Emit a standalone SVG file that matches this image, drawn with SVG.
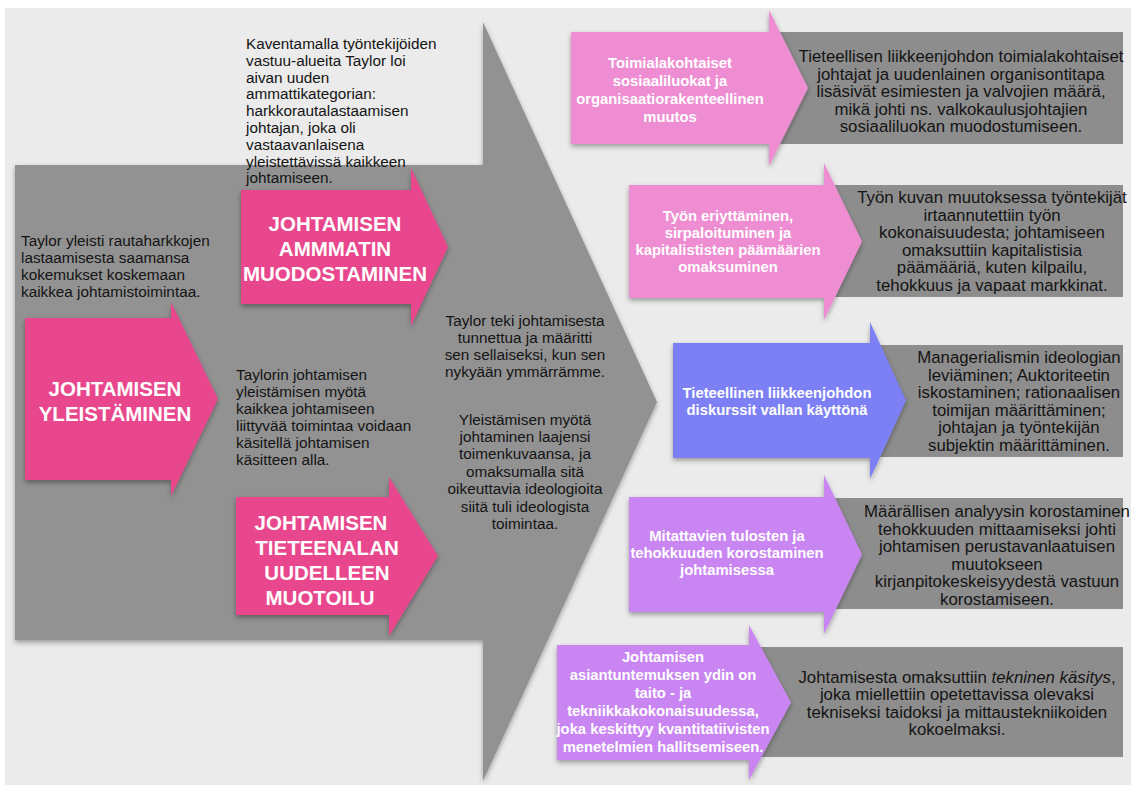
<svg xmlns="http://www.w3.org/2000/svg" width="1131" height="788" viewBox="0 0 1131 788">
<defs>
<filter id="sh" x="-10%" y="-10%" width="120%" height="125%">
<feDropShadow dx="0" dy="2.5" stdDeviation="2.5" flood-color="#000" flood-opacity="0.35"/>
</filter>
<style>
text{font-family:"Liberation Sans",Arial,Helvetica,sans-serif;dominant-baseline:central}
.t{fill:#141414;font-size:15.3px}
.c{text-anchor:middle}
.r{fill:#141414;font-size:16.8px;text-anchor:middle}
.lbl{fill:#fff;font-weight:bold;font-size:14.8px;text-anchor:middle}
.big{fill:#fff;font-weight:bold;font-size:20.5px;text-anchor:middle}
.hot{fill:#e9468d;filter:url(#sh)}
.lpink{fill:#ee8dd2;filter:url(#sh)}
.blue{fill:#7b80f4;filter:url(#sh)}
.purp{fill:#c986f2;filter:url(#sh)}
.gbox{fill:#8d8d8d}
</style>
</defs>
<rect x="5" y="8" width="1126" height="777" fill="#ebebeb"/>

<g id="main-arrow">
<polygon points="15,165 483,165 483,22 657,402 483,781 483,640 15,640" fill="#929292" filter="url(#sh)"/>
</g>

<g id="connectors"></g>

<g id="node-ammatti">
<polygon class="hot" points="241,190 411,190 411,168 448,247 411,326 411,304 241,304"/>
<text class="big"><tspan x="335" y="223">JOHTAMISEN</tspan><tspan x="335" y="248">AMMMATIN</tspan><tspan x="335" y="273">MUODOSTAMINEN</tspan></text>
</g>

<g id="node-yleistaminen">
<polygon class="hot" points="25,318 171,318 171,302 218,399 171,496 171,480 25,480"/>
<text class="big"><tspan x="115" y="388">JOHTAMISEN</tspan><tspan x="115" y="413">YLEISTÄMINEN</tspan></text>
</g>

<g id="node-tieteenala">
<polygon class="hot" points="236,497 389,497 389,477 438,556 389,636 389,615 236,615"/>
<text class="big"><tspan x="321" y="522">JOHTAMISEN</tspan><tspan x="327" y="547">TIETEENALAN</tspan><tspan x="327" y="572">UUDELLEEN</tspan><tspan x="320" y="597">MUOTOILU</tspan></text>
</g>

<g id="text-kaventamalla">
<text class="t"><tspan x="246" y="43">Kaventamalla työntekijöiden</tspan><tspan x="246" y="59.8">vastuu-alueita Taylor loi</tspan><tspan x="246" y="76.6">aivan uuden</tspan><tspan x="246" y="93.4">ammattikategorian:</tspan><tspan x="246" y="110.2">harkkorautalastaamisen</tspan><tspan x="246" y="127">johtajan, joka oli</tspan><tspan x="246" y="143.8">vastaavanlaisena</tspan><tspan x="246" y="160.6">yleistettävissä kaikkeen</tspan><tspan x="246" y="177.4">johtamiseen.</tspan></text>
</g>

<g id="text-taylor-yleisti">
<text class="t"><tspan x="21" y="240">Taylor yleisti rautaharkkojen</tspan><tspan x="21" y="257">lastaamisesta saamansa</tspan><tspan x="21" y="274">kokemukset koskemaan</tspan><tspan x="21" y="291">kaikkea johtamistoimintaa.</tspan></text>
</g>

<g id="text-taylorin">
<text class="t"><tspan x="236" y="374">Taylorin johtamisen</tspan><tspan x="236" y="391">yleistämisen myötä</tspan><tspan x="236" y="408">kaikkea johtamiseen</tspan><tspan x="236" y="425">liittyvää toimintaa voidaan</tspan><tspan x="236" y="442">käsitellä johtamisen</tspan><tspan x="236" y="459">käsitteen alla.</tspan></text>
</g>

<g id="text-taylor-teki">
<text class="t c"><tspan x="525" y="320">Taylor teki johtamisesta</tspan><tspan x="525" y="337">tunnettua ja määritti</tspan><tspan x="525" y="354">sen sellaiseksi, kun sen</tspan><tspan x="525" y="371">nykyään ymmärrämme.</tspan></text>
</g>

<g id="text-yleistamisen">
<text class="t c"><tspan x="525" y="419">Yleistämisen myötä</tspan><tspan x="525" y="436">johtaminen laajensi</tspan><tspan x="525" y="453">toimenkuvaansa, ja</tspan><tspan x="525" y="470.5">omaksumalla sitä</tspan><tspan x="525" y="488">oikeuttavia ideologioita</tspan><tspan x="525" y="505.5">siitä tuli ideologista</tspan><tspan x="525" y="523">toimintaa.</tspan></text>
</g>

<g id="row-1">
<rect class="gbox" x="765" y="32" width="358" height="112"/>
<polygon class="lpink" points="571,32 769,32 769,10 808,88 769,166 769,144 571,144"/>
<text class="lbl"><tspan x="670" y="63">Toimialakohtaiset</tspan><tspan x="670" y="81">sosiaaliluokat ja</tspan><tspan x="670" y="99">organisaatiorakenteellinen</tspan><tspan x="670" y="117">muutos</tspan></text>
<text class="r"><tspan x="961" y="56">Tieteellisen liikkeenjohdon toimialakohtaiset</tspan><tspan x="961" y="73.5">johtajat ja uudenlainen organisontitapa</tspan><tspan x="961" y="91">lisäsivät esimiesten ja valvojien määrä,</tspan><tspan x="961" y="108.5">mikä johti ns. valkokaulusjohtajien</tspan><tspan x="961" y="126">sosiaaliluokan muodostumiseen.</tspan></text>
</g>

<g id="row-2">
<rect class="gbox" x="820" y="185" width="303" height="112"/>
<polygon class="lpink" points="629,185 824,185 824,163 862,241.5 824,320 824,298 629,298"/>
<text class="lbl"><tspan x="728" y="215.5">Työn eriyttäminen,</tspan><tspan x="728" y="232.5">sirpaloituminen ja</tspan><tspan x="728" y="249.5">kapitalististen päämäärien</tspan><tspan x="728" y="266.5">omaksuminen</tspan></text>
<text class="r"><tspan x="992" y="197.25">Työn kuvan muutoksessa työntekijät</tspan><tspan x="992" y="214.75">irtaannutettiin työn</tspan><tspan x="992" y="232.25">kokonaisuudesta; johtamiseen</tspan><tspan x="992" y="249.75">omaksuttiin kapitalistisia</tspan><tspan x="992" y="267.25">päämääriä, kuten kilpailu,</tspan><tspan x="992" y="284.75">tehokkuus ja vapaat markkinat.</tspan></text>
</g>

<g id="row-3">
<rect class="gbox" x="866" y="345" width="257" height="112"/>
<polygon class="blue" points="673,343 870,343 870,322 906,400.5 870,479 870,458 673,458"/>
<text class="lbl"><tspan x="777" y="392.5">Tieteellinen liikkeenjohdon</tspan><tspan x="777" y="409.5">diskurssit vallan käyttönä</tspan></text>
<text class="r"><tspan x="1019" y="357.25">Managerialismin ideologian</tspan><tspan x="1019" y="374.75">leviäminen; Auktoriteetin</tspan><tspan x="1019" y="392.25">iskostaminen; rationaalisen</tspan><tspan x="1019" y="409.75">toimijan määrittäminen;</tspan><tspan x="1019" y="427.25">johtajan ja työntekijän</tspan><tspan x="1019" y="444.75">subjektin määrittäminen.</tspan></text>
</g>

<g id="row-4">
<rect class="gbox" x="820" y="498" width="303" height="111"/>
<polygon class="purp" points="629,497 824,497 824,475 862,554.5 824,634 824,612 629,612"/>
<text class="lbl"><tspan x="727" y="536">Mitattavien tulosten ja</tspan><tspan x="727" y="553">tehokkuuden korostaminen</tspan><tspan x="727" y="570">johtamisessa</tspan></text>
<text class="r"><tspan x="997" y="511.25">Määrällisen analyysin korostaminen</tspan><tspan x="997" y="528.75">tehokkuuden mittaamiseksi johti</tspan><tspan x="997" y="546.25">johtamisen perustavanlaatuisen</tspan><tspan x="997" y="563.75">muutokseen</tspan><tspan x="997" y="581.25">kirjanpitokeskeisyydestä vastuun</tspan><tspan x="997" y="598.75">korostamiseen.</tspan></text>
</g>

<g id="row-5">
<rect class="gbox" x="745" y="647" width="378" height="110"/>
<polygon class="purp" points="557,645 749,645 749,625 791,702.5 749,780 749,760 557,760"/>
<text class="lbl"><tspan x="663" y="657">Johtamisen</tspan><tspan x="663" y="675">asiantuntemuksen ydin on</tspan><tspan x="663" y="693">taito - ja</tspan><tspan x="663" y="711">tekniikkakokonaisuudessa,</tspan><tspan x="663" y="729">joka keskittyy kvantitatiivisten</tspan><tspan x="663" y="747">menetelmien hallitsemiseen.</tspan></text>
<text class="r"><tspan x="957" y="676.75">Johtamisesta omaksuttiin <tspan font-style="italic">tekninen käsitys</tspan>,</tspan><tspan x="957" y="694.25">joka miellettiin opetettavissa olevaksi</tspan><tspan x="957" y="711.75">tekniseksi taidoksi ja mittaustekniikoiden</tspan><tspan x="957" y="729.25">kokoelmaksi.</tspan></text>
</g>
</svg>
